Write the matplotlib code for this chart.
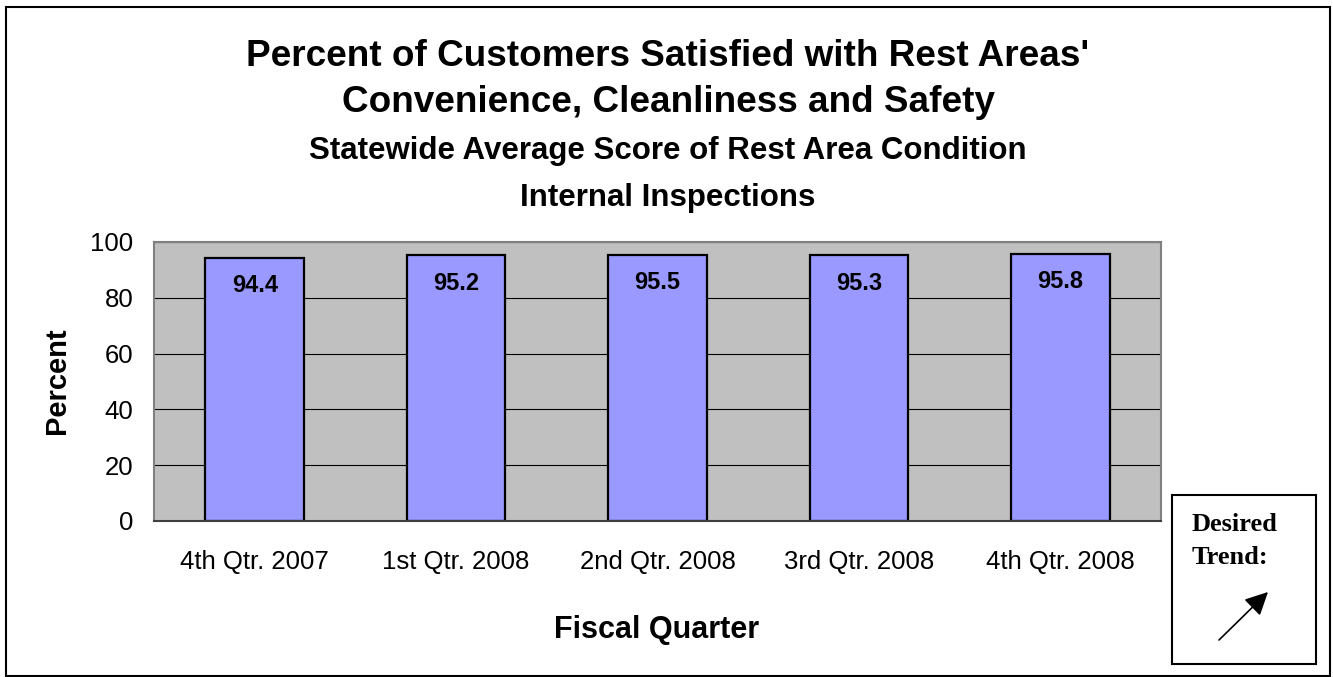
import matplotlib
matplotlib.use("Agg")
import matplotlib.pyplot as plt
from matplotlib.patches import Rectangle, FancyArrowPatch

quarters = ["4th Qtr. 2007", "1st Qtr. 2008", "2nd Qtr. 2008", "3rd Qtr. 2008", "4th Qtr. 2008"]
values = [94.4, 95.2, 95.5, 95.3, 95.8]
yticks = [0, 20, 40, 60, 80, 100]

plt.rcParams['font.family'] = ['Liberation Sans', 'DejaVu Sans']

W, H = 1333, 677
fig = plt.figure(figsize=(W / 100, H / 100), dpi=100)


def fx(px):
    return px / W


def fy(py):
    return 1 - py / H


# figure border
fig.add_artist(Rectangle((fx(6), fy(676)), (1330 - 6) / W, (676 - 7) / H,
                         transform=fig.transFigure, fill=False, lw=1.5, ec='black'))

x0, x1 = 154, 1161
y0, y1 = 242, 521
ax = fig.add_axes([fx(x0), fy(y1), (x1 - x0) / W, (y1 - y0) / H])
ax.set_facecolor('#c0c0c0')
ax.set_ylim(0, 100)
ax.set_xlim(-0.5, len(quarters) - 0.5)
ax.set_yticks(yticks)
ax.grid(axis='y', color='black', lw=0.8)
ax.set_axisbelow(True)
ax.bar(range(len(quarters)), values, width=0.49, color='#9999ff', edgecolor='black', lw=1.6)
for i, v in enumerate(values):
    ax.text(i, v - 6, f"{v:.1f}", ha='center', va='top', fontsize=17, fontweight='bold')
ax.set_xticks(range(len(quarters)))
ax.set_xticklabels(quarters, fontsize=18.5)
ax.tick_params(axis='y', labelsize=18.5, length=0, pad=15)
ax.tick_params(axis='x', length=0, pad=21)
for s in ['top', 'right', 'left']:
    ax.spines[s].set_color('#808080')
    ax.spines[s].set_linewidth(1.5)
ax.spines['bottom'].set_color('#404040')
ax.spines['bottom'].set_linewidth(1.5)

cx = fx(668)
fig.text(cx, fy(66), "Percent of Customers Satisfied with Rest Areas'", ha='center', va='baseline', fontsize=26.6, fontweight='bold')
fig.text(cx, fy(112), "Convenience, Cleanliness and Safety", ha='center', va='baseline', fontsize=26.6, fontweight='bold')
fig.text(cx, fy(159), "Statewide Average Score of Rest Area Condition", ha='center', va='baseline', fontsize=22.5, fontweight='bold')
fig.text(cx, fy(206), "Internal Inspections", ha='center', va='baseline', fontsize=22.5, fontweight='bold')

# axis labels
fig.text(fx(57), fy(381), "Percent", rotation=90, ha='center', va='center', fontsize=21, fontweight='bold')
fig.text(fx(657), fy(638), "Fiscal Quarter", ha='center', va='baseline', fontsize=22, fontweight='bold')

# desired trend box
bx0, by0, bx1, by1 = 1172, 495, 1316, 664
fig.add_artist(Rectangle((fx(bx0), fy(by1)), (bx1 - bx0) / W, (by1 - by0) / H,
                         transform=fig.transFigure, fill=False, lw=1.5, ec='black'))
serif = ['Liberation Serif', 'DejaVu Serif']
fig.text(fx(1192), fy(531), "Desired", ha='left', va='baseline', fontsize=19, fontweight='bold', family=serif)
fig.text(fx(1192), fy(564), "Trend:", ha='left', va='baseline', fontsize=19, fontweight='bold', family=serif)
fig.add_artist(FancyArrowPatch((fx(1219), fy(640)), (fx(1268), fy(592)),
                               transform=fig.transFigure, arrowstyle='-|>,head_length=14,head_width=7',
                               mutation_scale=1, color='black', lw=1.2, shrinkA=0, shrinkB=0))

fig.savefig("out.png", dpi=100, facecolor='white')
